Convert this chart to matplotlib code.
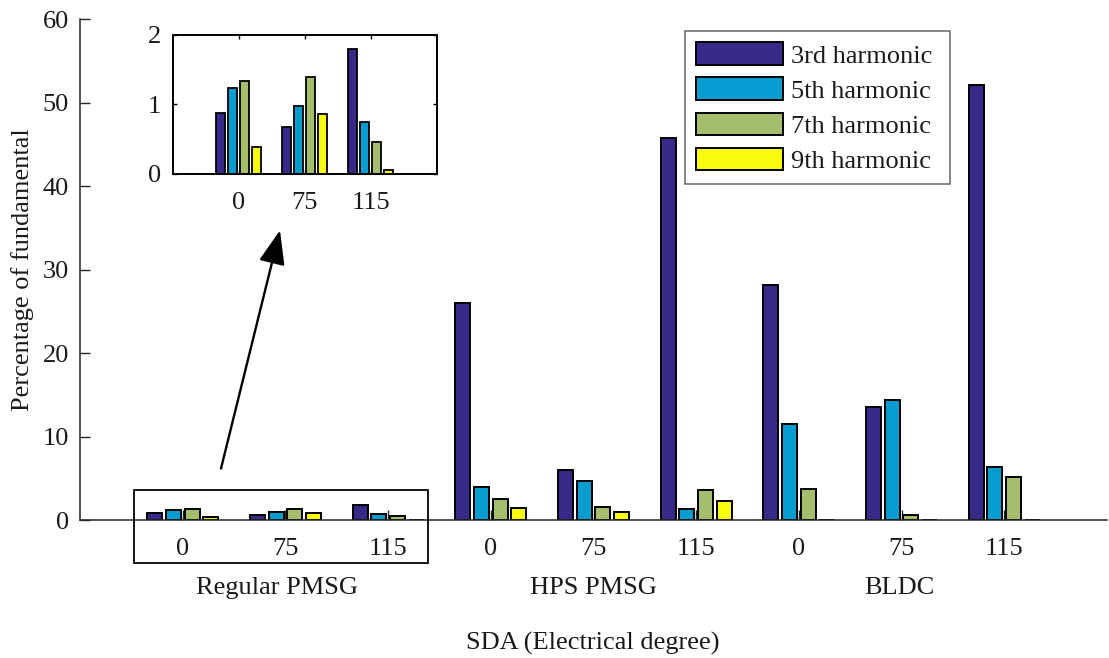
import matplotlib
matplotlib.use("Agg")
import matplotlib.pyplot as plt
import numpy as np
from matplotlib.patches import Rectangle

# ---------------- data ----------------
machines = ["Regular PMSG", "HPS PMSG", "BLDC"]
sda_labels = ["0", "75", "115"]
series_names = ["3rd harmonic", "5th harmonic", "7th harmonic", "9th harmonic"]

h3 = [0.88, 0.67, 1.80, 26.0, 6.07, 45.8, 28.2, 13.6, 52.1]
h5 = [1.23, 0.97, 0.74, 3.95, 4.67, 1.36, 11.5, 14.4, 6.4]
h7 = [1.34, 1.39, 0.46, 2.5, 1.64, 3.67, 3.8, 0.6, 5.2]
h9 = [0.39, 0.86, 0.06, 1.45, 1.0, 2.27, 0.0, 0.0, 0.0]

colors = ["#352a87", "#079cd0", "#a5be6b", "#f9fb0e"]

# ---------------- style ----------------
FS = 19
plt.rcParams["font.family"] = ["Liberation Serif", "DejaVu Serif"]
plt.rcParams["font.size"] = FS
TXT = "#1a1a1a"

fig = plt.figure(figsize=(11.09, 6.58), dpi=100)
W, H = 1109, 658

ax = fig.add_axes([80 / W, (H - 520.3) / H, 1027 / W, 501.3 / H])
allseries = [h3, h5, h7, h9]
nser = len(allseries)
x = np.arange(1, len(h3) + 1)
gw = min(0.8, nser / (nser + 1.5))
bw = 0.8 * gw / nser
for i, (vals, c) in enumerate(zip(allseries, colors)):
    off = (i - (nser - 1) / 2) * gw / nser
    ax.bar(x + off, vals, width=bw, color=c, edgecolor="black", linewidth=1.4,
           label=series_names[i] + " ", zorder=2)

ax.set_xlim(0, 10)
ax.set_ylim(0, 60)
ax.set_yticks(np.arange(0, 61, 10))
ax.set_xticks(x)
ax.set_xticklabels(sda_labels * 3)
for s in ["top", "right"]:
    ax.spines[s].set_visible(False)
for s in ["left", "bottom"]:
    ax.spines[s].set_color("#262626")
    ax.spines[s].set_linewidth(1.1)
    ax.spines[s].set_zorder(3)
ax.tick_params(axis="both", direction="in", length=7, width=1, color="#262626",
               labelcolor=TXT, labelsize=FS)
ax.tick_params(axis="x", pad=13)
ax.tick_params(axis="y", pad=8)

# category labels
for k, name in enumerate(machines):
    xc = [1.92, 5.0, 7.98][k]
    ax.text(xc, -8.8, name, ha="center", va="baseline", color=TXT, fontsize=FS,
            clip_on=False)
ax.text(4.99, -15.5, "SDA (Electrical degree)", ha="center", va="baseline",
        color=TXT, fontsize=FS, clip_on=False)
fig.text(23 / W, 1 - 270 / H, "Percentage of fundamental", rotation=90,
         ha="center", va="center", color=TXT, fontsize=FS)

# rectangle around Regular PMSG
rect = Rectangle((0.526, -5.11), 3.386 - 0.526, 3.63 + 5.11, fill=False,
                 edgecolor="black", linewidth=1.3, clip_on=False, zorder=4)
ax.add_patch(rect)

# arrow
ax.annotate("", xy=(1.947, 34.7), xytext=(1.373, 6.2),
            arrowprops=dict(arrowstyle="-|>,head_length=0.7,head_width=0.27",
                            mutation_scale=30, lw=1.7, color="black",
                            shrinkA=0, shrinkB=0))

# legend
leg = ax.legend(loc="upper right", bbox_to_anchor=(950 / W, 1 - 31 / H),
                bbox_transform=fig.transFigure, borderaxespad=0,
                fancybox=False, frameon=True, handlelength=3.3,
                handleheight=0.95, handletextpad=0.3, labelspacing=0.37,
                borderpad=0.42, fontsize=FS)
leg.get_frame().set_edgecolor("#404040")
leg.get_frame().set_linewidth(1.1)
for t in leg.get_texts():
    t.set_color(TXT)

# inset
axi = fig.add_axes([172.5 / W, (H - 173.7) / H, 264.2 / W, 138.7 / H])
xi = np.arange(1, 4)
for i, (vals, c) in enumerate(zip(allseries, colors)):
    off = (i - (nser - 1) / 2) * gw / nser
    axi.bar(xi + off, vals[:3], width=bw, color=c, edgecolor="black",
            linewidth=1.3, zorder=2)
axi.set_xlim(0, 4)
axi.set_ylim(0, 2)
axi.set_yticks([0, 1, 2])
axi.set_xticks(xi)
axi.set_xticklabels(sda_labels)
for s in axi.spines.values():
    s.set_color("black")
    s.set_linewidth(1.4)
    s.set_zorder(3)
axi.tick_params(axis="both", direction="in", length=3, width=1, top=True,
                right=True, labelcolor=TXT, labelsize=FS)
axi.tick_params(axis="x", pad=13)
axi.tick_params(axis="y", pad=8)

fig.savefig("out.png", dpi=100)
